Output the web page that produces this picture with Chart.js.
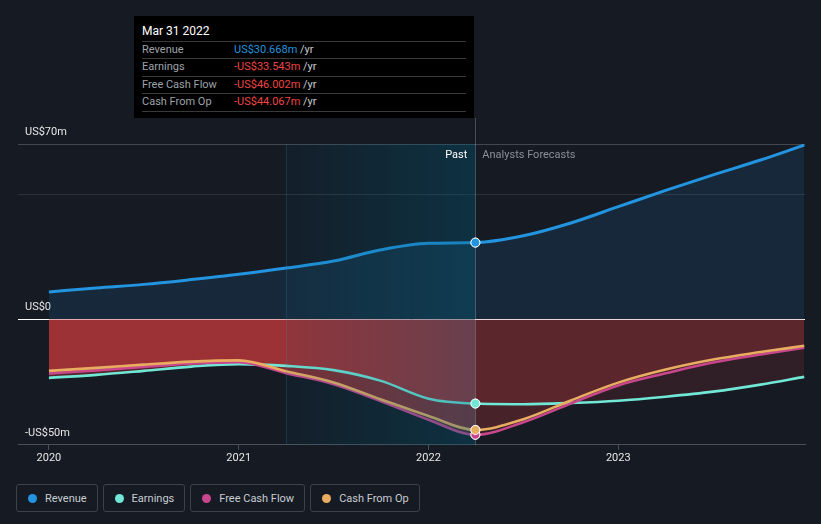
<!DOCTYPE html>
<html>
<head>
<meta charset="utf-8">
<script src="https://cdn.jsdelivr.net/npm/chart.js@4"></script>
<style>
body{margin:0;background:#151a23;width:821px;height:524px;overflow:hidden;font-family:Roboto,sans-serif;}
#wrap{position:absolute;left:0;top:0;width:821px;height:475px;}
#tip{position:absolute;left:134px;top:16px;width:340px;height:102px;background:#000;color:#fff;}
#tip .title{position:absolute;left:8px;top:7px;font-size:12px;line-height:16px;}
#tip .row{position:absolute;left:8px;width:324px;height:17px;border-top:1px solid #3a3a3a;font-size:11px;line-height:16px;}
#tip .row.last{border-bottom:1px solid #3a3a3a;}
#tip .lab{position:absolute;left:0;color:#9ea2a9;}
#tip .val{position:absolute;left:92px;}
#tip .unit{color:#c9ccd1;}
#legend{position:absolute;left:16px;top:484px;display:flex;gap:5px;}
.item{height:26px;border:1px solid #3c414b;border-radius:3px;display:flex;align-items:center;padding:0 10px 0 11px;font-size:11px;color:#c8ccd2;}
.dot{width:9px;height:9px;border-radius:50%;margin-right:8px;}
</style>
</head>
<body>
<div id="wrap"><canvas id="chart"></canvas></div>
<div id="tip"></div>
<div id="legend"></div>
<script>
// DATA (US$ millions, x = decimal year)
const dates        = [2020.0, 2020.25, 2020.5, 2020.75, 2021.0, 2021.25, 2021.5, 2021.75, 2022.0, 2022.247, 2022.5, 2022.75, 2023.0, 2023.25, 2023.5, 2023.75, 2023.98];
const revenue      = [11.0, 12.6, 14.0, 15.9, 18.0, 20.5, 23.3, 27.8, 30.4, 30.668, 33.4, 38.5, 45.0, 51.5, 57.7, 63.6, 69.6];
const earnings     = [-23.3, -22.1, -20.5, -18.8, -17.8, -18.5, -20.2, -24.5, -31.6, -33.543, -33.8, -33.3, -32.4, -30.8, -28.8, -26.0, -22.9];
const freeCashFlow = [-21.6, -20.3, -18.9, -17.6, -17.0, -21.4, -25.8, -32.6, -40.0, -46.002, -41.0, -33.5, -26.3, -21.5, -17.2, -14.0, -11.3];
const cashFromOp   = [-20.5, -19.3, -18.0, -16.8, -16.3, -20.7, -25.1, -31.9, -38.5, -44.067, -39.8, -32.3, -25.2, -20.0, -16.0, -13.0, -10.5];

const seriesNames  = ["Revenue", "Earnings", "Free Cash Flow", "Cash From Op"];
const seriesColors = ["#2394df", "#71e7d6", "#c8468c", "#e9ad61"];
const seriesData   = [revenue, earnings, freeCashFlow, cashFromOp];

const xTicks = [2020, 2021, 2022, 2023];
const yTicks = [-50, 0, 50, 70];
const yTickLabels = ["-US$50m", "US$0", "", "US$70m"];

const bandStart = 2021.247;
const pastEnd = 2022.247;
const pastLabel = "Mar 31 2022";
const hoverIdx = dates.indexOf(pastEnd);

// TOOLTIP (static, at Mar 31 2022)
function money(v){
    return (v<0?"-":"")+"US$"+Math.abs(v).toFixed(3)+"m";
}
const tip=document.getElementById("tip");
let tipHTML=`<div class="title">${pastLabel}</div>`;
seriesNames.forEach((n,i)=>{
    const v=seriesData[i][hoverIdx];
    const col=v<0?"#ef4444":seriesColors[0];
    tipHTML+=`<div class="row${i===3?" last":""}" style="top:${24.5+i*17.5}px">
        <span class="lab">${n}</span>
        <span class="val"><span style="color:${col}">${money(v)}</span> <span class="unit">/yr</span></span>
    </div>`;
});
tip.innerHTML=tipHTML;

// LEGEND
document.getElementById("legend").innerHTML=seriesNames.map((n,i)=>
    `<div class="item"><span class="dot" style="background:${seriesColors[i]}"></span>${n}</div>`
).join("");

// fill colour: one colour for the past, another for the forecast
function splitFill(chart,past,future){
    const a=chart.chartArea;
    if(!a || !chart.scales.x) return past;
    const px=chart.scales.x.getPixelForValue(pastEnd);
    const f=Math.min(1,Math.max(0,(px-a.left)/(a.right-a.left)));
    const g=chart.ctx.createLinearGradient(a.left,0,a.right,0);
    g.addColorStop(0,past); g.addColorStop(f,past);
    g.addColorStop(f,future); g.addColorStop(1,future);
    return g;
}

const overlay={
    id:"overlay",
    afterDatasetsDraw(chart){
        const {ctx,chartArea:a,scales:{x}}=chart;
        const x0=x.getPixelForValue(bandStart), x1=x.getPixelForValue(pastEnd);
        ctx.save();
        // last 12 months band
        const g=ctx.createLinearGradient(x0,0,x1,0);
        g.addColorStop(0,"rgba(0,95,125,0.08)");
        g.addColorStop(1,"rgba(0,95,125,0.34)");
        ctx.fillStyle=g;
        ctx.fillRect(x0,a.top,x1-x0,a.bottom-a.top);
        ctx.fillStyle="rgba(70,150,180,0.18)";
        ctx.fillRect(Math.round(x0),a.top,1,a.bottom-a.top);
        // hover line
        const tipBottom=tip.offsetTop+tip.offsetHeight;
        ctx.fillStyle="rgba(255,255,255,0.22)";
        ctx.fillRect(Math.round(x1),tipBottom,1,a.bottom-tipBottom);
        // hover points on top
        chart.getSortedVisibleDatasetMetas().slice().reverse().forEach(m=>{
            m.data[hoverIdx].draw(ctx);
        });
        // labels
        ctx.font="11px Roboto";
        ctx.textBaseline="middle";
        ctx.textAlign="right";
        ctx.fillStyle="#ffffff";
        ctx.fillText("Past",x1-8,a.top+11);
        ctx.textAlign="left";
        ctx.fillStyle="#8b9099";
        ctx.fillText("Analysts Forecasts",x1+7,a.top+11);
        ctx.restore();
    }
};

const pastFills   = ["rgba(35,148,223,0.13)","rgba(215,60,62,0.33)","rgba(215,60,62,0.33)","rgba(215,60,62,0.33)"];
const futureFills = ["rgba(35,148,223,0.12)","rgba(215,60,62,0.14)","rgba(215,60,62,0.14)","rgba(215,60,62,0.14)"];
const drawOrder = [3,2,1,0];

new Chart(document.getElementById("chart"),{
    type:"line",
    data:{
        datasets:seriesNames.map((n,i)=>({
            label:n,
            data:dates.map((d,j)=>({x:d,y:seriesData[i][j]})),
            borderColor:seriesColors[i],
            borderWidth:i===0?3:2.6,
            fill:"origin",
            backgroundColor:c=>splitFill(c.chart,pastFills[i],futureFills[i]),
            cubicInterpolationMode:"monotone",
            pointRadius:c=>c.dataIndex===hoverIdx?4.5:0,
            pointBackgroundColor:seriesColors[i],
            pointBorderColor:"#ffffff",
            pointBorderWidth:1,
            order:drawOrder[i]
        }))
    },
    options:{
        responsive:true,
        maintainAspectRatio:false,
        animation:false,
        events:[],
        layout:{padding:{left:4,right:16,top:144,bottom:8}},
        plugins:{
            legend:{display:false},
            tooltip:{enabled:false},
            filler:{drawTime:"beforeDatasetsDraw"}
        },
        scales:{
            x:{
                type:"linear",
                min:2019.837,
                max:2023.984,
                afterBuildTicks:ax=>{ax.ticks=xTicks.map(v=>({value:v}));},
                grid:{drawOnChartArea:false,drawTicks:true,tickLength:5,color:"#4a505a"},
                border:{color:"#4a505a"},
                ticks:{color:"#e6e6e6",font:{family:"Roboto",size:11},padding:2,callback:v=>String(v),maxRotation:0}
            },
            y:{
                min:-50,
                max:70,
                afterBuildTicks:ax=>{ax.ticks=yTicks.map(v=>({value:v}));},
                grid:{
                    drawTicks:false,
                    color:c=>{
                        const v=c.tick&&c.tick.value;
                        if(v===0) return "#ffffff";
                        if(v===70) return "rgba(255,255,255,0.2)";
                        if(v===50) return "rgba(255,255,255,0.1)";
                        return "#4a505a";
                    }
                },
                border:{display:false},
                ticks:{
                    mirror:true,
                    padding:7,
                    labelOffset:-12,
                    color:"#e6e6e6",
                    font:{family:"Roboto",size:11},
                    callback:v=>yTickLabels[yTicks.indexOf(v)]
                }
            }
        }
    },
    plugins:[overlay]
});
</script>
</body>
</html>
